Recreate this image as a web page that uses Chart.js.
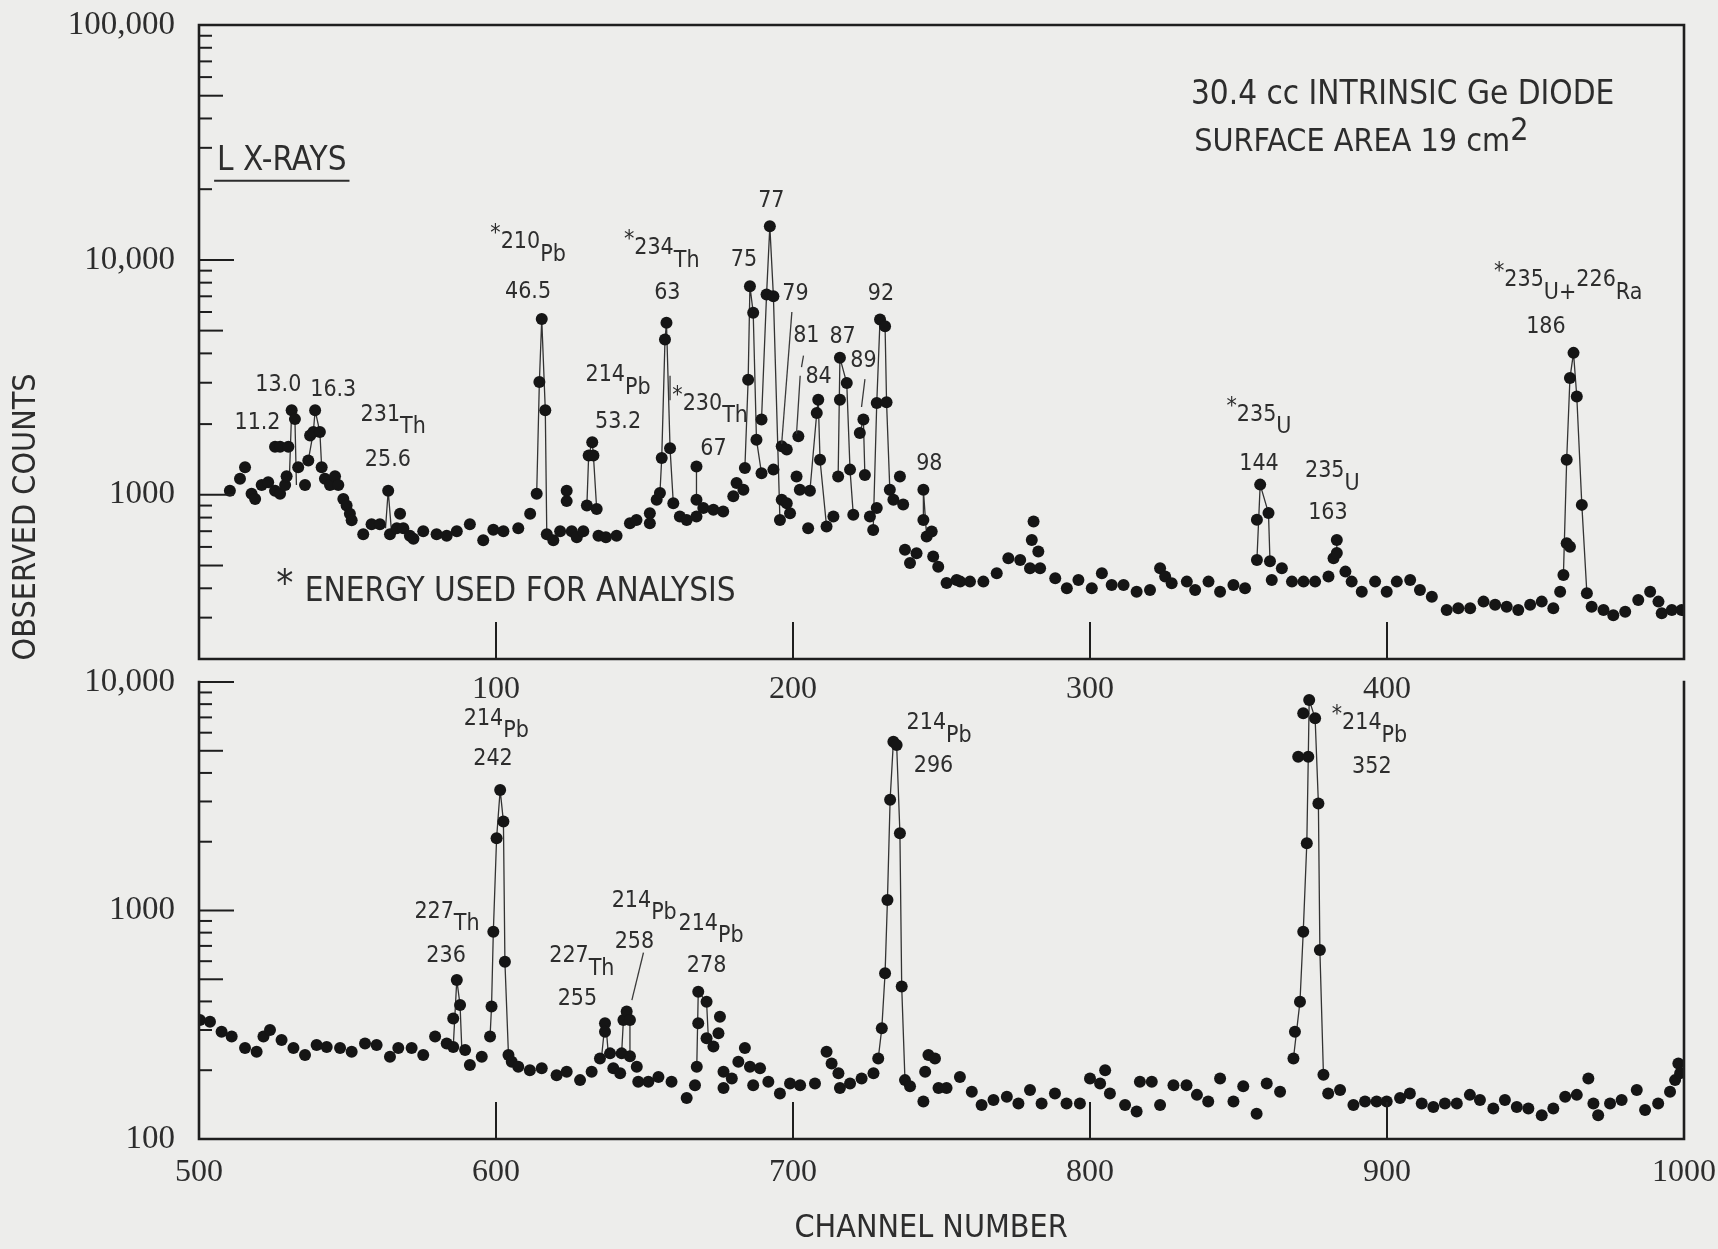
<!DOCTYPE html>
<html>
<head>
<meta charset="utf-8">
<script src="https://cdn.jsdelivr.net/npm/chart.js@4.4.0/dist/chart.umd.min.js"></script>
<style>
  body { margin: 0; background: #ededeb; }
  #wrap { position: relative; width: 1718px; height: 1249px; overflow: hidden; }
  canvas { position: absolute; left: 0; }
  #botChart { top: 640px; }
  #topChart { top: 0; }
</style>
</head>
<body>
<div id="wrap">
  <canvas id="botChart" width="1718" height="609"></canvas>
  <canvas id="topChart" width="1718" height="720"></canvas>
</div>
<script>
// espectro Ge intrinseco - canais 0-500 em cima, 500-1000 embaixo
const SANS = '"DejaVu Sans Condensed", "DejaVu Sans", sans-serif'
const SERIF = '"Liberation Serif", "DejaVu Serif", serif'
const INK = '#1e1e1e'
const TXT = '#2d2d2d'

// eixos
const topXTicks = [100, 200, 300, 400]
const bottomXTicks = [500, 600, 700, 800, 900, 1000]
const topYTicks = [1000, 10000, 100000]
const topYLabels = ['1000', '10,000', '100,000']
const bottomYTicks = [100, 1000, 10000]
const bottomYLabels = ['100', '1000', '10,000']

// painel de cima: canal / contagens
const topCh = [10.4, 13.8, 15.5, 17.7, 18.9, 21.1, 23.3, 25.6, 25.6, 27.3, 27.3, 29.0, 29.5, 30.1, 31.2, 32.3, 33.4, 35.7, 36.8, 37.4,
  38.5, 39.1, 40.7, 41.3, 42.4, 44.1, 45.8, 46.9, 48.6, 49.7, 50.8, 51.4, 55.3, 58.1, 60.9, 63.7, 64.3, 66.6, 67.7, 68.8,
  71.0, 72.2, 75.5, 80.0, 83.4, 86.8, 91.2, 95.7, 99.1, 102.5, 107.5, 111.5, 113.7, 114.6, 115.4, 116.6, 117.1, 119.3, 121.6, 123.8,
  123.8, 125.5, 127.2, 129.4, 130.6, 131.2, 132.4, 132.8, 133.9, 134.5, 137.0, 140.6, 145.1, 147.3, 151.8, 151.8, 154.1, 155.2, 155.8, 156.9,
  157.4, 158.6, 159.7, 161.9, 164.2, 167.5, 167.5, 167.5, 169.8, 173.2, 176.5, 179.9, 181.0, 183.3, 183.8, 184.9, 185.5, 186.6, 187.7, 189.4,
  189.4, 191.1, 192.2, 193.4, 193.4, 195.6, 196.2, 196.2, 197.9, 197.9, 199.0, 201.2, 201.8, 202.3, 205.1, 205.7, 208.0, 208.5, 209.1, 211.3,
  213.6, 215.2, 215.8, 215.8, 218.1, 219.2, 220.3, 222.5, 223.7, 224.2, 225.9, 227.0, 228.2, 228.2, 229.3, 231.0, 231.5, 232.6, 233.8, 236.0,
  237.1, 237.7, 239.4, 241.6, 243.9, 243.9, 245.0, 246.7, 247.2, 248.9, 251.7, 255.1, 256.3, 259.6, 264.1, 268.6, 272.5, 276.5, 279.8, 280.4,
  281.0, 282.6, 283.2, 288.3, 292.2, 296.1, 300.6, 304.0, 307.3, 311.3, 315.7, 320.2, 323.6, 325.3, 327.5, 332.6, 335.4, 339.9, 343.8, 348.3,
  352.2, 356.2, 356.2, 357.3, 360.1, 360.6, 361.2, 364.6, 368.0, 371.9, 375.8, 380.3, 382.0, 383.1, 383.1, 386.0, 388.1, 391.5, 396.0, 399.9,
  403.3, 407.8, 411.1, 415.1, 420.1, 424.0, 428.0, 432.5, 436.4, 440.3, 444.2, 448.2, 452.1, 456.0, 458.3, 459.4, 460.5, 461.6, 460.5, 461.6,
  462.8, 463.9, 465.6, 467.3, 468.9, 472.9, 476.2, 480.2, 484.6, 488.6, 491.4, 492.5, 495.9, 499.2]
const topCounts = [1040, 1170, 1310, 1010, 960, 1100, 1130, 1040, 1600, 1010, 1600, 1100, 1200, 1600, 2290, 2100, 1310, 1100, 1400, 1790,
  1850, 2290, 1850, 1310, 1170, 1100, 1200, 1100, 960, 900, 830, 780, 680, 750, 750, 1040, 680, 720, 830, 720,
  670, 650, 700, 680, 670, 700, 750, 640, 710, 700, 720, 830, 1010, 3020, 5600, 2290, 680, 640, 700, 1040,
  940, 700, 660, 700, 900, 1470, 1675, 1470, 870, 670, 660, 670, 757, 782, 835, 757, 952, 1017, 1433, 4580,
  5400, 1580, 921, 808, 782, 808, 952, 1320, 878, 863, 849, 985, 1122, 1050, 1300, 3090, 7730, 5960, 1717, 1235,
  2090, 7120, 13900, 7010, 1280, 782, 1610, 952, 1560, 921, 835, 1197, 1775, 1050, 721, 1040, 2230, 2540, 1410, 733,
  808, 1197, 3830, 2540, 2990, 1280, 822, 1833, 2090, 1215, 808, 709, 878, 2460, 5570, 5220, 2480, 1050, 952, 1197,
  910, 583, 512, 564, 1050, 782, 664, 698, 546, 494, 421, 434, 427, 427, 427, 463, 537, 528, 487, 642,
  769, 574, 487, 441, 400, 434, 400, 463, 413, 413, 387, 393, 487, 449, 420, 427, 393, 427, 387, 413,
  400, 528, 783, 1105, 836, 521, 434, 487, 427, 427, 427, 449, 537, 565, 642, 471, 427, 387, 427, 387,
  427, 434, 393, 368, 323, 329, 329, 351, 340, 334, 323, 340, 351, 329, 387, 456, 622, 601, 1410, 3140,
  4020, 2620, 906, 381, 334, 323, 307, 318, 357, 387, 351, 313, 323, 323]

// linhas finas que ligam os pontos dos picos (null = quebra)
const topLineCh = [30.5, 31.2, 32.3, 32.8, null, 36.8, 38.5, 39.1, 40.7, 41.3, null, 62.8, 63.7, 64.8, null,
  113.7, 114.6, 115.4, 116.6, 117.1, null, 130.6, 131.2, 132.4, 132.8, 133.9, null,
  155.2, 155.8, 156.9, 157.4, 158.6, 159.7, null, 167.5, 167.5, null,
  183.8, 184.9, 185.5, 186.6, 187.7, 189.4, null, 189.4, 191.1, 192.2, 193.4, 195.6, null,
  205.7, 208.0, 208.5, 209.1, 211.3, null, 215.2, 215.8, 218.1, 219.2, 220.3, null, 222.5, 223.7, 224.2, null,
  227.0, 228.2, 229.3, 231.0, 231.5, 232.6, null, 243.9, 243.9, 245.0, null, 356.2, 357.3, 360.1, 360.6, null,
  383.1, 383.1, null, 459.4, 460.5, 461.6, 462.8, 463.9, 465.6, 467.3]
const topLineCounts = [1250, 2290, 2100, 1100, null, 1400, 1850, 2290, 1850, 1310, null, 720, 1040, 700, null,
  1010, 3020, 5600, 2290, 680, null, 900, 1470, 1675, 1470, 870, null,
  1017, 1433, 4580, 5400, 1580, 921, null, 952, 1320, null,
  1300, 3090, 7730, 5960, 1717, 1235, null, 2090, 7120, 13900, 7010, 782, null,
  1040, 2230, 2540, 1410, 733, null, 1197, 3830, 2990, 1280, 822, null, 1833, 2090, 1215, null,
  709, 2460, 5570, 5220, 2480, 1050, null, 782, 1050, 664, null, 528, 1105, 836, 521, null,
  565, 642, null, 456, 1410, 3140, 4020, 2620, 906, 381]

// painel de baixo
const bottomCh = [500.3, 503.7, 507.6, 511.0, 515.5, 519.4, 521.7, 523.9, 527.8, 531.8, 535.7, 539.6, 543.0, 547.5, 551.4, 555.9, 559.8, 564.3, 567.1, 571.6,
  575.5, 579.5, 583.4, 585.6, 585.6, 586.8, 587.9, 589.6, 591.2, 595.2, 598.0, 598.5, 599.1, 600.2, 601.4, 602.5, 603.0, 604.2, 605.3, 607.5,
  611.4, 615.4, 620.4, 623.8, 628.3, 632.2, 635.0, 636.7, 636.7, 638.4, 639.5, 641.8, 642.3, 642.9, 644.0, 645.1, 645.1, 647.4, 647.9, 651.3,
  654.7, 659.1, 664.2, 667.0, 667.6, 668.1, 668.1, 670.9, 670.9, 673.2, 674.9, 675.4, 676.6, 676.6, 679.4, 681.6, 683.8, 685.5, 686.6, 688.9,
  691.7, 695.6, 699.0, 702.4, 707.4, 711.3, 713.0, 715.3, 715.8, 719.2, 723.1, 727.1, 728.7, 729.9, 731.0, 731.8, 732.7, 733.8, 734.9, 736.0,
  736.6, 737.7, 739.4, 743.9, 744.5, 745.6, 747.8, 749.0, 751.7, 756.2, 760.2, 763.5, 767.5, 772.0, 775.9, 779.8, 783.7, 788.2, 792.1, 796.6,
  800.0, 803.4, 805.1, 806.7, 811.8, 815.7, 816.8, 820.8, 823.6, 828.1, 832.5, 836.0, 839.8, 843.8, 848.3, 851.6, 856.1, 859.5, 864.0, 868.5,
  869.0, 870.7, 871.8, 873.0, 870.1, 873.5, 871.8, 873.8, 875.8, 876.9, 877.4, 878.6, 880.2, 884.2, 888.7, 892.6, 896.5, 899.9, 904.4, 907.7,
  911.7, 915.6, 919.5, 923.5, 927.9, 931.3, 935.8, 939.7, 943.7, 947.6, 952.1, 956.0, 960.0, 963.9, 967.8, 969.5, 971.1, 975.1, 979.0, 984.1,
  986.9, 991.3, 995.3, 997.0, 998.1, 998.7]
const bottomCounts = [332, 326, 295, 281, 250, 241, 281, 300, 271, 250, 233, 258, 253, 250, 241, 262, 258, 229, 250, 250,
  233, 281, 262, 253, 337, 497, 386, 245, 211, 229, 281, 380, 807, 2070, 3370, 2450, 597, 233, 218, 207,
  200, 204, 190, 197, 181, 197, 225, 321, 295, 237, 204, 194, 237, 332, 361, 332, 230, 207, 178, 178,
  187, 178, 151, 172, 207, 321, 441, 399, 276, 254, 290, 343, 197, 167, 184, 218, 250, 207, 172, 204,
  178, 158, 175, 172, 175, 241, 214, 194, 167, 175, 184, 194, 225, 305, 531, 1112, 3050, 5480, 5300, 2180,
  465, 181, 170, 146, 197, 233, 225, 167, 167, 187, 161, 141, 148, 153, 143, 164, 143, 158, 143, 143,
  184, 175, 200, 158, 141, 132, 178, 178, 141, 172, 172, 156, 146, 184, 146, 170, 129, 175, 161, 225,
  295, 399, 807, 1970, 4710, 4710, 7290, 8350, 6940, 2940, 671, 191, 158, 164, 141, 146, 146, 146, 151, 158,
  143, 138, 143, 143, 156, 148, 136, 148, 138, 136, 127, 136, 153, 156, 184, 143, 127, 143, 148, 164,
  134, 143, 161, 181, 214, 194]

const bottomLineCh = [585.6, 586.8, 587.9, 588.5, null, 598.0, 598.5, 599.1, 600.2, 601.4, 602.5, 603.0, 604.2, null,
  635.5, 636.7, null, 637.8, 637.2, null, 642.3, 642.9, null, 645.1, 645.1, null, 667.6, 668.1, 670.9, 671.5, null,
  728.7, 729.9, 731.0, 731.8, 732.7, 733.8, 734.9, 736.0, 736.6, 737.7, null,
  868.5, 870.7, 871.8, 873.0, 873.5, 873.8, 875.8, 876.9, 877.4, 878.6]
const bottomLineCounts = [253, 497, 386, 245, null, 281, 380, 807, 2070, 3370, 2450, 597, 233, null,
  225, 321, null, 237, 295, null, 237, 332, null, 230, 332, null, 207, 441, 399, 276, null,
  225, 305, 531, 1112, 3050, 5480, 5300, 2180, 465, 181, null,
  225, 399, 807, 1970, 4710, 8350, 6940, 2940, 671, 191]

// rotulos: texto, canal, contagem, tamanho, alinhamento   (_ abaixa, ^ volta, ~ sobe)
const topNotes = [
  ['L X-RAYS', 6.1, 26200, 33, 'left', true],
  ['30.4 cc INTRINSIC Ge DIODE', 334, 50100, 33, 'left'],
  ['SURFACE AREA 19 cm~2', 335.1, 31600, 32, 'left'],
  ['*', 28.9, 408, 38],
  ['ENERGY USED FOR ANALYSIS', 35.6, 383, 33, 'left'],
  ['11.2', 19.7, 2030], ['13.0', 26.7, 2920], ['16.3', 45.2, 2800],
  ['231_Th', 65.4, 2190], ['25.6', 63.6, 1410],
  ['~*^210_Pb', 110.8, 11870], ['46.5', 110.8, 7290],
  ['214_Pb', 141.1, 3220], ['53.2', 141.1, 2050],
  ['~*^234_Th', 155.8, 11230], ['63', 157.7, 7220],
  ['~*^230_Th', 172.1, 2440], ['67', 173.2, 1570],
  ['75', 183.5, 9980], ['77', 192.7, 17800], ['79', 200.8, 7150], ['81', 204.5, 4740], ['84', 208.6, 3160],
  ['87', 216.7, 4700], ['89', 223.7, 3710], ['92', 229.6, 7150], ['98', 245.9, 1350],
  ['~*^235_U', 356.9, 2190], ['144', 356.9, 1350],
  ['235_U', 381.6, 1260], ['163', 380.1, 839],
  ['~*^235_U+^226_Ra', 461, 8220], ['186', 453.5, 5180]
]
const bottomNotes = [
  ['214_Pb', 600.1, 6900], ['242', 599.0, 4590],
  ['227_Th', 583.5, 988], ['236', 583.2, 630],
  ['227_Th', 628.9, 630], ['255', 627.4, 408],
  ['214_Pb', 649.9, 1104], ['258', 646.6, 726],
  ['214_Pb', 672.4, 875], ['278', 670.9, 569],
  ['214_Pb', 749.2, 6610], ['296', 747.3, 4290],
  ['~*^214_Pb', 894.1, 6610], ['352', 894.9, 4250]
]
// tracinhos que apontam dos rotulos para os picos: ch1, n1, ch2, n2
const topLeaders = [[199.6, 5960, 196.2, 1660], [203.5, 3890, 202.9, 3520], [202.4, 3190, 201.2, 1830],
  [224.2, 3090, 223.1, 2380], [158.6, 3190, 158.6, 2540]]
const bottomLeaders = [[649.6, 650, 645.8, 408]]

function drawNote(ctx, text, x, y, size, align, underline) {
  const parts = []
  let shift = 0, buf = ''
  for (const c of text) {
    if (c === '_' || c === '^' || c === '~') {
      if (buf) parts.push([buf, shift])
      buf = ''
      shift = c === '_' ? 0.55 : c === '~' ? -0.35 : 0
    } else buf += c
  }
  if (buf) parts.push([buf, shift])
  ctx.font = size + 'px ' + SANS
  const w = parts.reduce((s, p) => s + ctx.measureText(p[0]).width, 0)
  let cx = align === 'left' ? x : x - w / 2
  ctx.textAlign = 'left'
  ctx.textBaseline = 'middle'
  for (const [t, s] of parts) {
    ctx.fillText(t, cx, y + s * size)
    cx += ctx.measureText(t).width
  }
  if (underline) {
    ctx.lineWidth = 2
    ctx.beginPath()
    ctx.moveTo(x - 2, y + size * 0.58)
    ctx.lineTo(x + w + 2, y + size * 0.58)
    ctx.stroke()
  }
}

const figurePlugin = {
  id: 'figure',
  afterDraw(chart, args, o) {
    const ctx = chart.ctx, a = chart.chartArea
    const xs = chart.scales.x, ys = chart.scales.y
    const seg = (x1, y1, x2, y2) => { ctx.beginPath(); ctx.moveTo(x1, y1); ctx.lineTo(x2, y2); ctx.stroke() }
    ctx.save()
    ctx.strokeStyle = INK
    ctx.fillStyle = TXT
    ctx.lineCap = 'square'
    // moldura
    ctx.lineWidth = 2.6
    ctx.beginPath()
    ctx.moveTo(a.left, a.top)
    ctx.lineTo(a.left, a.bottom)
    ctx.lineTo(a.right, a.bottom)
    ctx.lineTo(a.right, a.top)
    if (o.closed) ctx.closePath()
    ctx.stroke()
    // marcas do eixo log para dentro
    ctx.lineWidth = 2
    const d0 = Math.floor(Math.log10(ys.min)), d1 = Math.ceil(Math.log10(ys.max))
    for (let d = d0; d <= d1; d++) {
      for (let m = 1; m < 10; m++) {
        const v = m * Math.pow(10, d)
        if (v < ys.min * 0.999 || v > ys.max * 1.001) continue
        const y = ys.getPixelForValue(v)
        seg(a.left, y, a.left + (m === 1 ? 34 : m === 5 ? 23 : 12), y)
      }
    }
    o.xMarks.forEach(v => {
      const x = xs.getPixelForValue(v)
      seg(x, a.bottom, x, a.bottom - 36)
    })
    // tracinhos
    ctx.lineWidth = 1.3
    ctx.strokeStyle = '#3a3a3a'
    o.leaders.forEach(l => seg(xs.getPixelForValue(l[0]), ys.getPixelForValue(l[1]), xs.getPixelForValue(l[2]), ys.getPixelForValue(l[3])))
    // textos
    ctx.strokeStyle = TXT
    o.notes.forEach(n => drawNote(ctx, n[0], xs.getPixelForValue(n[1]), ys.getPixelForValue(n[2]), n[3] || 23, n[4] || 'center', n[5]))
    // titulos dos eixos
    ctx.font = '32px ' + SANS
    ctx.textAlign = 'center'
    ctx.textBaseline = 'middle'
    if (o.xTitle) ctx.fillText(o.xTitle, xs.getPixelForValue(o.xTitleAt), a.bottom + 90)
    if (o.yTitle) {
      ctx.translate(27, ys.getPixelForValue(o.yTitleAt))
      ctx.rotate(-Math.PI / 2)
      ctx.fillText(o.yTitle, 0, 0)
    }
    ctx.restore()
  }
}

function makePanel(canvas, p) {
  return new Chart(canvas, {
    type: 'scatter',
    data: {
      datasets: [{
        data: p.ch.map((c, i) => ({ x: c, y: p.counts[i] })),
        pointRadius: 6,
        pointBackgroundColor: '#151515',
        pointBorderWidth: 0,
        showLine: false
      }, {
        data: p.lineCh.map((c, i) => ({ x: c === null ? p.lineCh[i - 1] : c, y: p.lineCounts[i] })),
        showLine: true,
        spanGaps: false,
        pointRadius: 0,
        borderWidth: 1.3,
        borderColor: '#333333'
      }]
    },
    options: {
      responsive: false,
      animation: false,
      devicePixelRatio: 1,
      layout: { padding: { top: p.padTop, right: 34, left: 0, bottom: 0 } },
      plugins: {
        legend: { display: false },
        tooltip: { enabled: false },
        figure: p.figure
      },
      scales: {
        x: {
          type: 'linear',
          min: p.xMin,
          max: p.xMax,
          afterBuildTicks: s => { s.ticks = p.xTicks.map(v => ({ value: v })) },
          afterFit: s => { s.height = p.xHeight; s.paddingLeft = 0; s.paddingRight = 0 },
          grid: { display: false, drawTicks: false },
          border: { display: false },
          ticks: {
            autoSkip: false, maxRotation: 0, padding: p.xPad, color: TXT, font: { family: SERIF, size: 32 },
            callback: v => String(v)
          }
        },
        y: {
          type: 'logarithmic',
          min: p.yMin,
          max: p.yMax,
          afterBuildTicks: s => { s.ticks = p.yTicks.map(v => ({ value: v })) },
          afterFit: s => { s.width = 199; s.paddingTop = 0; s.paddingBottom = 0 },
          grid: { display: false, drawTicks: false },
          border: { display: false },
          ticks: {
            autoSkip: false, padding: 24, color: TXT, font: { family: SERIF, size: 33 },
            callback: (v, i) => p.yLabels[i]
          }
        }
      }
    },
    plugins: [figurePlugin]
  })
}

makePanel(document.getElementById('topChart'), {
  ch: topCh, counts: topCounts, lineCh: topLineCh, lineCounts: topLineCounts,
  xMin: 0, xMax: 500, xTicks: topXTicks, yMin: 200, yMax: 100000, yTicks: topYTicks, yLabels: topYLabels,
  padTop: 25, xHeight: 61, xPad: 11,
  figure: { closed: true, xMarks: topXTicks, notes: topNotes, leaders: topLeaders, yTitle: 'OBSERVED COUNTS', yTitleAt: 805 }
})

makePanel(document.getElementById('botChart'), {
  ch: bottomCh, counts: bottomCounts, lineCh: bottomLineCh, lineCounts: bottomLineCounts,
  xMin: 500, xMax: 1000, xTicks: bottomXTicks, yMin: 100, yMax: 10000, yTicks: bottomYTicks, yLabels: bottomYLabels,
  padTop: 42, xHeight: 110, xPad: 14,
  figure: { closed: false, xMarks: [600, 700, 800, 900], notes: bottomNotes, leaders: bottomLeaders, xTitle: 'CHANNEL NUMBER', xTitleAt: 746.5 }
})
</script>
</body>
</html>
